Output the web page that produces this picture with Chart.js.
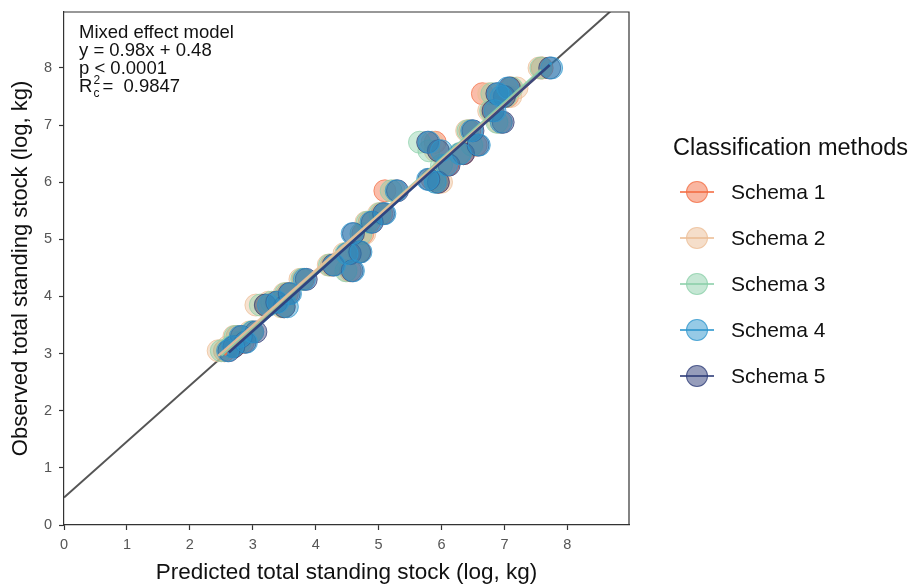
<!DOCTYPE html>
<html>
<head>
<meta charset="utf-8">
<script src="https://cdn.jsdelivr.net/npm/chart.js@4.4.1/dist/chart.umd.min.js"></script>
<style>
  body { margin: 0; background: #fff; font-family: "Liberation Sans", Arial, Helvetica, sans-serif; }
  #wrap { position: relative; width: 917px; height: 586px; overflow: hidden; }
  #chart { position: absolute; left: 0; top: 0; }
  #note { position: absolute; left: 79px; top: 23px; font-size: 18.5px; line-height: 18px; color: #111; }
  .rc { display: inline-block; position: relative; width: 10px; height: 12px; }
  .rc .sup { position: absolute; left: 1px; top: -9px; font-size: 12px; }
  .rc .sub { position: absolute; left: 1px; top: 4px; font-size: 12px; }
  #legend { position: absolute; left: 673px; top: 134px; color: #111; }
  #legend .ttl { font-size: 23.5px; margin-bottom: 8px; white-space: nowrap; }
  #legend .item { display: flex; align-items: center; height: 46px; }
  #legend .key { position: relative; width: 48px; height: 26px; margin-right: 10px; }
  #legend .key .ln { position: absolute; left: 7px; top: 12px; width: 34px; height: 2px; }
  #legend .key .dot { position: absolute; left: 13px; top: 2px; width: 22px; height: 22px; border-radius: 50%; box-sizing: border-box; border: 1px solid; }
  #legend .lab { font-size: 21px; }
</style>
</head>
<body>
<div id="wrap">
  <canvas id="chart" width="917" height="586"></canvas>
  <div id="note">
    <div>Mixed effect model</div>
    <div>y = 0.98x + 0.48</div>
    <div>p &lt; 0.0001</div>
    <div>R<span class="rc"><span class="sup">2</span><span class="sub">c</span></span>= &nbsp;0.9847</div>
  </div>
  <div id="legend"></div>
</div>
<script>
// Observed total standing stock per site (log, kg)
const observed = [3.05, 3.12, 3.20, 3.30, 3.38, 3.85, 3.90, 3.82, 4.05, 4.30,
                  4.55, 4.45, 4.75, 4.78, 5.10, 5.30, 5.45, 5.85, 6.05, 6.00,
                  6.30, 6.70, 6.55, 6.50, 6.65, 6.90, 7.05, 7.25, 7.55, 7.50,
                  7.65, 8.00];

// Predicted total standing stock per site under each classification schema (log, kg)
const schema1 = [2.55, 2.70, 2.85, 2.75, 3.00, 3.20, 3.35, 3.50, 3.55, 3.80,
                 4.25, 4.55, 4.50, 4.70, 4.75, 4.85, 5.05, 5.10, 5.85, 5.95,
                 6.10, 5.90, 5.95, 6.35, 6.55, 6.45, 6.95, 6.80, 6.65, 7.05,
                 7.10, 7.60];
const schema2 = [2.45, 2.60, 2.75, 2.70, 2.95, 3.05, 3.25, 3.45, 3.50, 3.75,
                 4.20, 4.50, 4.45, 4.65, 4.78, 4.80, 5.00, 5.25, 5.95, 6.00,
                 6.05, 5.85, 5.90, 6.30, 6.50, 6.40, 6.90, 6.75, 6.75, 7.10,
                 7.20, 7.55];
const schema3 = [2.50, 2.65, 2.80, 2.72, 2.98, 3.12, 3.30, 3.48, 3.52, 3.78,
                 4.22, 4.48, 4.48, 4.68, 4.72, 4.82, 5.02, 5.20, 5.90, 5.92,
                 6.00, 5.65, 5.80, 6.28, 6.48, 6.42, 6.88, 6.78, 6.80, 7.02,
                 7.12, 7.58];
const schema4 = [2.60, 2.68, 2.90, 2.80, 3.00, 3.25, 3.40, 3.55, 3.60, 3.82,
                 4.30, 4.60, 4.50, 4.72, 4.58, 4.88, 5.10, 5.28, 5.78, 5.90,
                 6.08, 5.80, 6.00, 6.30, 6.60, 6.48, 6.95, 6.85, 6.90, 6.95,
                 7.05, 7.75];
const schema5 = [2.62, 2.70, 2.88, 2.82, 3.05, 3.20, 3.38, 3.50, 3.58, 3.85,
                 4.28, 4.58, 4.55, 4.70, 4.60, 4.90, 5.08, 5.30, 5.80, 5.95,
                 6.12, 5.78, 5.95, 6.35, 6.58, 6.50, 6.98, 6.82, 6.88, 7.00,
                 7.08, 7.72];

const schemaNames = ["Schema 1", "Schema 2", "Schema 3", "Schema 4", "Schema 5"];
const schemaRGB = ["244,109,67", "236,190,150", "140,208,170", "45,150,205", "45,60,120"];

// Overall mixed-effect fit
const fitSlope = 0.98;
const fitIntercept = 0.48;

const axisTicks = [0, 1, 2, 3, 4, 5, 6, 7, 8];
const axisMax = 8.98;

const predicted = [schema1, schema2, schema3, schema4, schema5];

function ols(xs, ys) {
  const n = xs.length;
  const mx = xs.reduce((a, b) => a + b, 0) / n;
  const my = ys.reduce((a, b) => a + b, 0) / n;
  let sxy = 0, sxx = 0;
  for (let i = 0; i < n; i++) { sxy += (xs[i] - mx) * (ys[i] - my); sxx += (xs[i] - mx) ** 2; }
  const b = sxy / sxx;
  return { b, a: my - b * mx };
}

const datasets = [];
// lower order is painted later (on top)
const pointOrder = [9, 8, 7, 5, 6];
const lineOrder = [4, 1, 3, 2, 0];
predicted.forEach((xs, k) => {
  datasets.push({
    type: 'scatter',
    label: schemaNames[k],
    data: xs.map((x, i) => ({ x, y: observed[i] })),
    backgroundColor: `rgba(${schemaRGB[k]},0.45)`,
    borderColor: `rgba(${schemaRGB[k]},0.7)`,
    borderWidth: 1,
    pointRadius: 11,
    pointHoverRadius: 11,
    order: pointOrder[k]
  });
  const f = ols(xs, observed);
  const lo = Math.min(...xs), hi = Math.max(...xs);
  datasets.push({
    type: 'line',
    label: schemaNames[k] + ' fit',
    data: [{ x: lo, y: f.a + f.b * lo }, { x: hi, y: f.a + f.b * hi }],
    borderColor: `rgba(${schemaRGB[k]},0.9)`,
    borderWidth: 2.5,
    pointRadius: 0,
    fill: false,
    order: lineOrder[k]
  });
});
datasets.push({
  type: 'line',
  label: 'Overall fit',
  data: [0, axisMax].map(x => ({ x, y: fitIntercept + fitSlope * x })),
  borderColor: '#555555',
  borderWidth: 2,
  pointRadius: 0,
  fill: false,
  order: 20
});

const frame = {
  id: 'frame',
  afterDraw(chart) {
    const { ctx, chartArea: a } = chart;
    ctx.save();
    ctx.strokeStyle = '#333';
    ctx.lineWidth = 1.2;
    ctx.beginPath();
    ctx.moveTo(a.left, a.top);
    ctx.lineTo(a.right, a.top);
    ctx.lineTo(a.right, a.bottom);
    ctx.stroke();
    ctx.restore();
  }
};

const keepTicks = s => { s.ticks = axisTicks.map(v => ({ value: v })); };
const font = "'Liberation Sans', Arial, Helvetica, sans-serif";

new Chart(document.getElementById('chart'), {
  data: { datasets },
  plugins: [frame],
  options: {
    responsive: false,
    animation: false,
    layout: { padding: { top: 10, right: 288, left: 0, bottom: 0 } },
    plugins: { legend: { display: false }, tooltip: { enabled: false } },
    scales: {
      x: {
        type: 'linear', min: 0, max: axisMax,
        afterBuildTicks: keepTicks,
        afterFit: s => { s.height = 61; s.paddingLeft = 0; s.paddingRight = 0; },
        grid: { drawOnChartArea: false, drawTicks: true, tickLength: 5, tickColor: '#333', tickWidth: 1.2 },
        border: { display: true, color: '#333', width: 1.2 },
        ticks: { color: '#555', font: { family: font, size: 14.5 }, padding: 6, maxRotation: 0 },
        title: { display: true, text: 'Predicted total standing stock (log, kg)', color: '#111',
                 font: { family: font, size: 22.5 }, padding: { top: 0, bottom: 0 } }
      },
      y: {
        type: 'linear', min: 0, max: axisMax,
        afterBuildTicks: keepTicks,
        afterFit: s => { s.width = 64; s.paddingTop = 0; s.paddingBottom = 0; },
        grid: { drawOnChartArea: false, drawTicks: true, tickLength: 5, tickColor: '#333', tickWidth: 1.2 },
        border: { display: true, color: '#333', width: 1.2 },
        ticks: { color: '#555', font: { family: font, size: 14.5 }, padding: 7 },
        title: { display: true, text: 'Observed total standing stock (log, kg)', color: '#111',
                 font: { family: font, size: 22 }, padding: { top: 8, bottom: 8 } }
      }
    }
  }
});

// Legend
const legend = document.getElementById('legend');
legend.innerHTML = '<div class="ttl">Classification methods</div>' + schemaNames.map((n, k) =>
  `<div class="item"><div class="key"><div class="ln" style="background:rgba(${schemaRGB[k]},0.8)"></div>` +
  `<div class="dot" style="background:rgba(${schemaRGB[k]},0.5);border-color:rgba(${schemaRGB[k]},0.7)"></div></div>` +
  `<div class="lab">${n}</div></div>`).join('');
</script>
</body>
</html>
